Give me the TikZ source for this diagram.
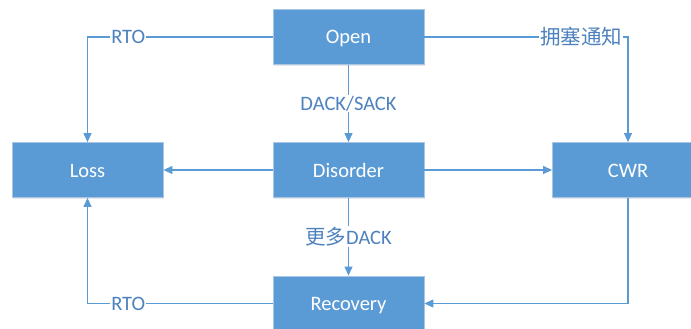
\documentclass[tikz,border=0pt]{standalone}
\usepackage{fontspec}
\setmainfont{Carlito}
\newfontfamily\cjk{Noto Sans CJK SC}
\usetikzlibrary{arrows.meta,shadows}
\definecolor{boxblue}{HTML}{5B9BD5}
\definecolor{boxedge}{HTML}{A9C6E4}
\definecolor{lineblue}{HTML}{5B9BD5}
\definecolor{labelblue}{HTML}{4E82BE}
\begin{document}
\begin{tikzpicture}[x=1pt,y=-1pt,
  state/.style={draw=boxedge,line width=0.8pt,fill=boxblue,text=white,
    minimum width=151pt,minimum height=55pt,inner sep=0pt,
    text height=14pt,text depth=0pt,
    font=\fontsize{20.5}{24}\selectfont,
    drop shadow={opacity=0.18,shadow xshift=1.2pt,shadow yshift=-1.2pt}},
  conn/.style={draw=lineblue,line width=1.1pt,-{Triangle[length=9pt,width=8pt]}},
  lbl/.style={fill=white,text=labelblue,inner sep=1pt,
    font=\fontsize{20.5}{24}\selectfont}]
\useasboundingbox (0,0) rectangle (691,329);
\begin{scope}
\clip (0,0) rectangle (691,329);
\node[state] (open) at (348.5,37) {Open};
\node[state] (loss) at (87.5,170) {Loss};
\node[state] (dis) at (348.5,170) {Disorder};
\node[state] (cwr) at (628,170) {CWR};
\node[state] (rec) at (348.5,303.5) {Recovery};

\coordinate (c1) at (87.5,37);
\coordinate (c2) at (628,37);
\coordinate (c3) at (87.5,303.5);
\coordinate (c4) at (628,303.5);

\draw[conn] (open.west) -- (c1) node[lbl,pos=0.78] {RTO} -- (loss.north);
\draw[conn] (open.east) -- (c2) node[lbl,pos=0.77] {\cjk 拥塞通知} -- (cwr.north);
\draw[conn] (open.south) -- node[lbl] {DACK/SACK} (dis.north);
\draw[conn] (dis.west) -- (loss.east);
\draw[conn] (dis.east) -- (cwr.west);
\draw[conn] (dis.south) -- node[lbl] {{\cjk 更多}DACK} (rec.north);
\draw[conn] (rec.west) -- (c3) node[lbl,pos=0.78] {RTO} -- (loss.south);
\draw[conn] (cwr.south) -- (c4) -- (rec.east);
\end{scope}
\end{tikzpicture}
\end{document}
